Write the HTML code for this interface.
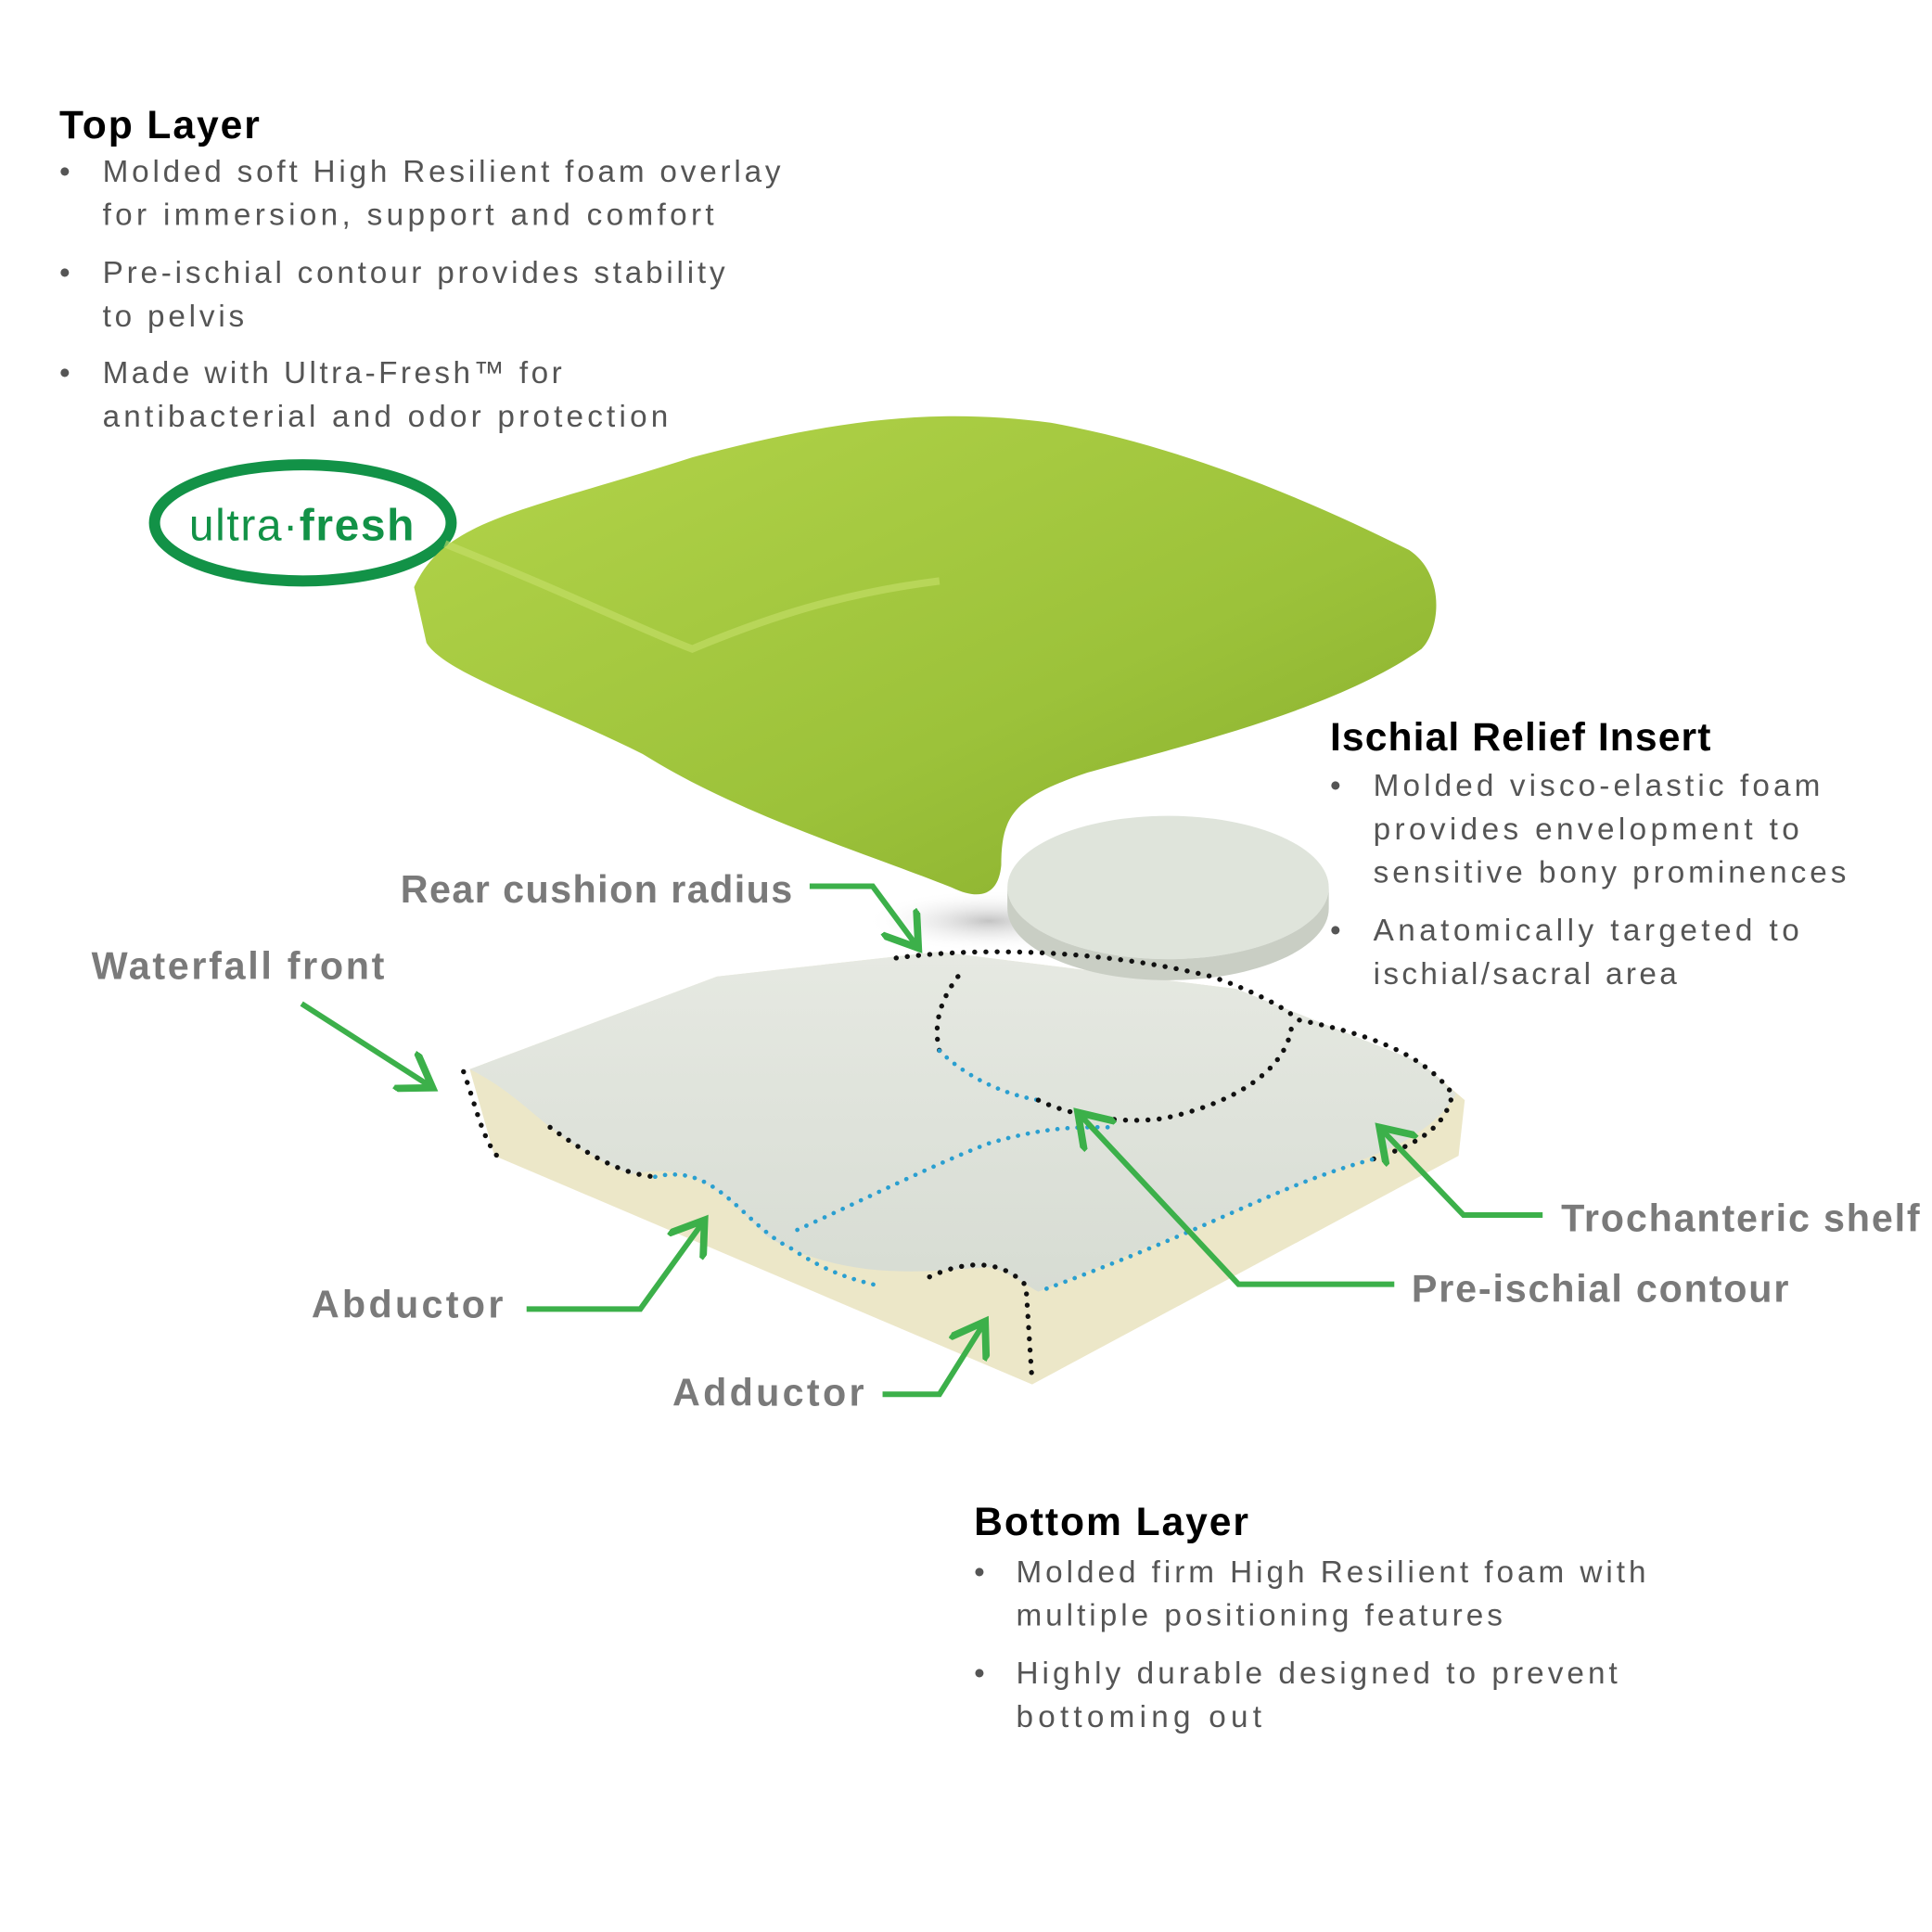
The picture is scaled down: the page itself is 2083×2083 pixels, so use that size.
<!DOCTYPE html>
<html><head><meta charset="utf-8"><style>
html,body{margin:0;padding:0;background:#fff;}
svg{display:block}
.b{font-family:"Liberation Sans",sans-serif;font-size:25px;fill:#555;letter-spacing:0.5px}
.h{font-family:"Liberation Sans",sans-serif;font-size:32px;font-weight:bold;fill:#000}
.l{font-family:"Liberation Sans",sans-serif;font-size:31px;font-weight:bold;fill:#7a7a7a}
.ar{fill:none;stroke:#3cb04a;stroke-width:4.5;stroke-linejoin:miter}
.dk{fill:none;stroke:#111;stroke-width:4;stroke-dasharray:0.1 9;stroke-linecap:round}
.bl{fill:none;stroke:#2a9fd0;stroke-width:3.5;stroke-dasharray:0.1 8;stroke-linecap:round}
</style></head><body>
<svg width="2083" height="2083" viewBox="0 0 1563 1563" xmlns="http://www.w3.org/2000/svg">
<defs>
<linearGradient id="g1" x1="0" y1="0" x2="1" y2="1"><stop offset="0" stop-color="#b3d44a"/><stop offset="0.6" stop-color="#9cc23a"/><stop offset="1" stop-color="#86ac2c"/></linearGradient>
<linearGradient id="g2" x1="0" y1="0" x2="0" y2="1"><stop offset="0" stop-color="#e6e9e2"/><stop offset="1" stop-color="#d7dcd3"/></linearGradient>
<marker id="ah" markerWidth="8" markerHeight="8" refX="6" refY="4" orient="auto" markerUnits="strokeWidth"><path d="M0,0 L6,4 L0,8" fill="none" stroke="#3cb04a" stroke-width="1.3"/></marker>
<radialGradient id="sh" cx="0.5" cy="0.5" r="0.5"><stop offset="0" stop-color="#888" stop-opacity="0.5"/><stop offset="1" stop-color="#fff" stop-opacity="0"/></radialGradient>
</defs>

<text class="h" x="48" y="112" textLength="162">Top Layer</text>
<g class="b">
<text x="48" y="147">•</text><text x="83" y="147" textLength="549">Molded soft High Resilient foam overlay</text>
<text x="83" y="182" textLength="495">for immersion, support and comfort</text>
<text x="48" y="229">•</text><text x="83" y="229" textLength="504">Pre-ischial contour provides stability</text>
<text x="83" y="264" textLength="115">to pelvis</text>
<text x="48" y="310">•</text><text x="83" y="310" textLength="372">Made with Ultra-Fresh™ for</text>
<text x="83" y="345" textLength="458">antibacterial and odor protection</text>
</g>

<ellipse cx="245" cy="423" rx="120" ry="47" fill="none" stroke="#129247" stroke-width="9"/>
<text x="153" y="437" font-family="Liberation Sans,sans-serif" font-size="36" fill="#129247" textLength="182">ultra·<tspan font-weight="bold">fresh</tspan></text>

<!-- shadow under top layer -->
<ellipse cx="800" cy="745" rx="100" ry="25" fill="url(#sh)"/>
<!-- bottom cushion sides -->
<path d="M380,865 L400,935 L835,1120 L1180,935 L1185,890 L1150,860 L1000,800 L760,770 L580,790 Z" fill="#ece7c8"/>
<path d="M380,865 C430,890 440,920 510,950 C560,940 580,960 620,1000 C680,1035 740,1030 800,1025 C820,1030 830,1040 840,1045 L1110,935 C1150,920 1170,900 1178,885 L1150,860 L1000,800 L760,770 L580,790 Z" fill="url(#g2)"/>
<!-- insert -->
<ellipse cx="945" cy="718" rx="130" ry="58" fill="#dfe4db"/>
<path d="M815,718 A130,58 0 0 0 1075,718 L1075,735 A130,58 0 0 1 815,735 Z" fill="#c9cec4"/>
<!-- green top -->
<path d="M335,475 C360,420 420,415 560,370 C680,338 760,330 850,342 C950,360 1050,400 1140,445 C1170,465 1165,510 1150,525 C1080,575 950,605 880,625 C820,645 810,660 810,700 C808,722 795,730 770,718 C700,690 600,660 520,610 C440,570 360,545 345,520 Z" fill="url(#g1)"/>
<path d="M360,440 C460,480 520,510 560,525 C620,500 680,480 760,470" fill="none" stroke="#c6e06a" stroke-width="6" opacity="0.6"/>

<!-- dotted lines -->
<path class="dk" d="M375,867 C385,895 390,920 402,935"/>
<path class="dk" d="M445,912 C470,930 500,950 530,952"/>
<path class="bl" d="M530,952 C580,940 600,990 640,1010 C670,1030 690,1035 710,1040"/>
<path class="dk" d="M752,1033 C780,1020 810,1018 830,1040 L835,1118"/>
<path class="dk" d="M725,775 C800,765 900,770 980,790 C1010,800 1040,815 1050,825 C1100,835 1150,850 1175,885 C1170,910 1150,925 1110,938"/>
<path class="bl" d="M1110,938 C1030,960 990,990 840,1045"/>
<path class="dk" d="M775,790 C760,810 755,830 760,850"/>
<path class="bl" d="M760,850 C780,870 810,885 840,890"/>
<path class="dk" d="M840,890 C860,900 900,910 940,905 C990,895 1040,870 1045,830"/>
<path class="bl" d="M645,995 C700,970 760,940 800,925 C850,910 880,912 900,912"/>

<!-- arrows -->
<path class="ar" marker-end="url(#ah)" d="M655,717 L706,717 L743,767"/>
<path class="ar" marker-end="url(#ah)" d="M244,812 L350,880"/>
<path class="ar" marker-end="url(#ah)" d="M426,1059 L518,1059 L570,987"/>
<path class="ar" marker-end="url(#ah)" d="M714,1128 L760,1128 L797,1069"/>
<path class="ar" marker-end="url(#ah)" d="M1248,983 L1184,983 L1116,912"/>
<path class="ar" marker-end="url(#ah)" d="M1128,1039 L1002,1039 L872,900"/>

<g class="l">
<text x="324" y="730" textLength="317">Rear cushion radius</text>
<text x="74" y="792" textLength="237">Waterfall front</text>
<text x="252" y="1066" textLength="155">Abductor</text>
<text x="544" y="1137" textLength="155">Adductor</text>
<text x="1263" y="996" textLength="290">Trochanteric shelf</text>
<text x="1142" y="1053" textLength="305">Pre-ischial contour</text>
</g>

<text class="h" x="1076" y="607" textLength="308">Ischial Relief Insert</text>
<g class="b">
<text x="1076" y="644">•</text><text x="1111" y="644" textLength="362">Molded visco-elastic foam</text>
<text x="1111" y="679" textLength="345">provides envelopment to</text>
<text x="1111" y="714" textLength="383">sensitive bony prominences</text>
<text x="1076" y="761">•</text><text x="1111" y="761" textLength="345">Anatomically targeted to</text>
<text x="1111" y="796" textLength="246">ischial/sacral area</text>
</g>

<text class="h" x="788" y="1242" textLength="222">Bottom Layer</text>
<g class="b">
<text x="788" y="1280">•</text><text x="822" y="1280" textLength="510">Molded firm High Resilient foam with</text>
<text x="822" y="1315" textLength="394">multiple positioning features</text>
<text x="788" y="1362">•</text><text x="822" y="1362" textLength="487">Highly durable designed to prevent</text>
<text x="822" y="1397" textLength="199">bottoming out</text>
</g>
</svg>
</body></html>
